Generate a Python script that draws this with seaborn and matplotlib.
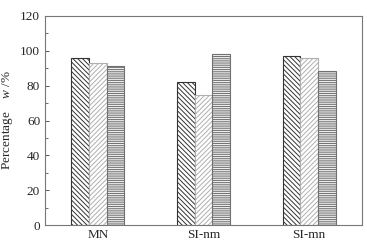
import matplotlib
matplotlib.use("Agg")
import matplotlib.pyplot as plt
from matplotlib.ticker import MultipleLocator
import pandas as pd
import seaborn as sns

categories = ["MN", "SI-nm", "SI-mn"]
series = ["A", "B", "C"]
values_a = [96.0, 82.0, 97.3]
values_b = [93.2, 74.6, 95.7]
values_c = [91.1, 98.0, 88.2]

df = pd.DataFrame({
    "cat": categories * 3,
    "series": [series[0]] * 3 + [series[1]] * 3 + [series[2]] * 3,
    "val": values_a + values_b + values_c,
})

sns.set_style("ticks")
plt.rcParams["font.family"] = ["Liberation Serif", "DejaVu Serif"]
plt.rcParams["mathtext.fontset"] = "custom"
plt.rcParams["mathtext.it"] = "Liberation Serif:italic"
plt.rcParams["mathtext.rm"] = "Liberation Serif"
plt.rcParams["hatch.linewidth"] = 0.7

fig = plt.figure(figsize=(3.67, 2.45), dpi=100)
ax = fig.add_axes([0.1226, 0.0816, 0.8638, 0.8531])

sns.barplot(data=df, x="cat", y="val", hue="series", order=categories,
            hue_order=series, width=0.5, gap=0, ax=ax, legend=False,
            palette=["white"] * 3, saturation=1)

hatches = ["\\\\\\\\\\\\\\", "///////", "---------"]
hatch_cols = ["#333333", "#b0b0b0", "#707070"]
for cont, h, hc in zip(ax.containers, hatches, hatch_cols):
    for p in cont:
        p.set_hatch(h)
        p.set_edgecolor(hc)
        p.set_linewidth(0.8)
        p.set_facecolor("white")

ax.set_xlim(-0.5, 2.5)
ax.set_ylim(0, 120)
ax.yaxis.set_major_locator(MultipleLocator(20))
ax.yaxis.set_minor_locator(MultipleLocator(10))
ax.tick_params(axis="both", direction="in", labelsize=9.5, color="#555555", width=0.7)
ax.tick_params(axis="y", which="major", length=3)
ax.tick_params(axis="y", which="minor", length=2, direction="in", color="#555555")
ax.tick_params(axis="x", length=3, pad=3)
for s in ax.spines.values():
    s.set_color("#777777")
    s.set_linewidth(0.8)
ax.set_xlabel("")
ax.set_ylabel("Percentage    $w$ /%", fontsize=9.5, labelpad=4)

fig.savefig("out.png", dpi=100)
